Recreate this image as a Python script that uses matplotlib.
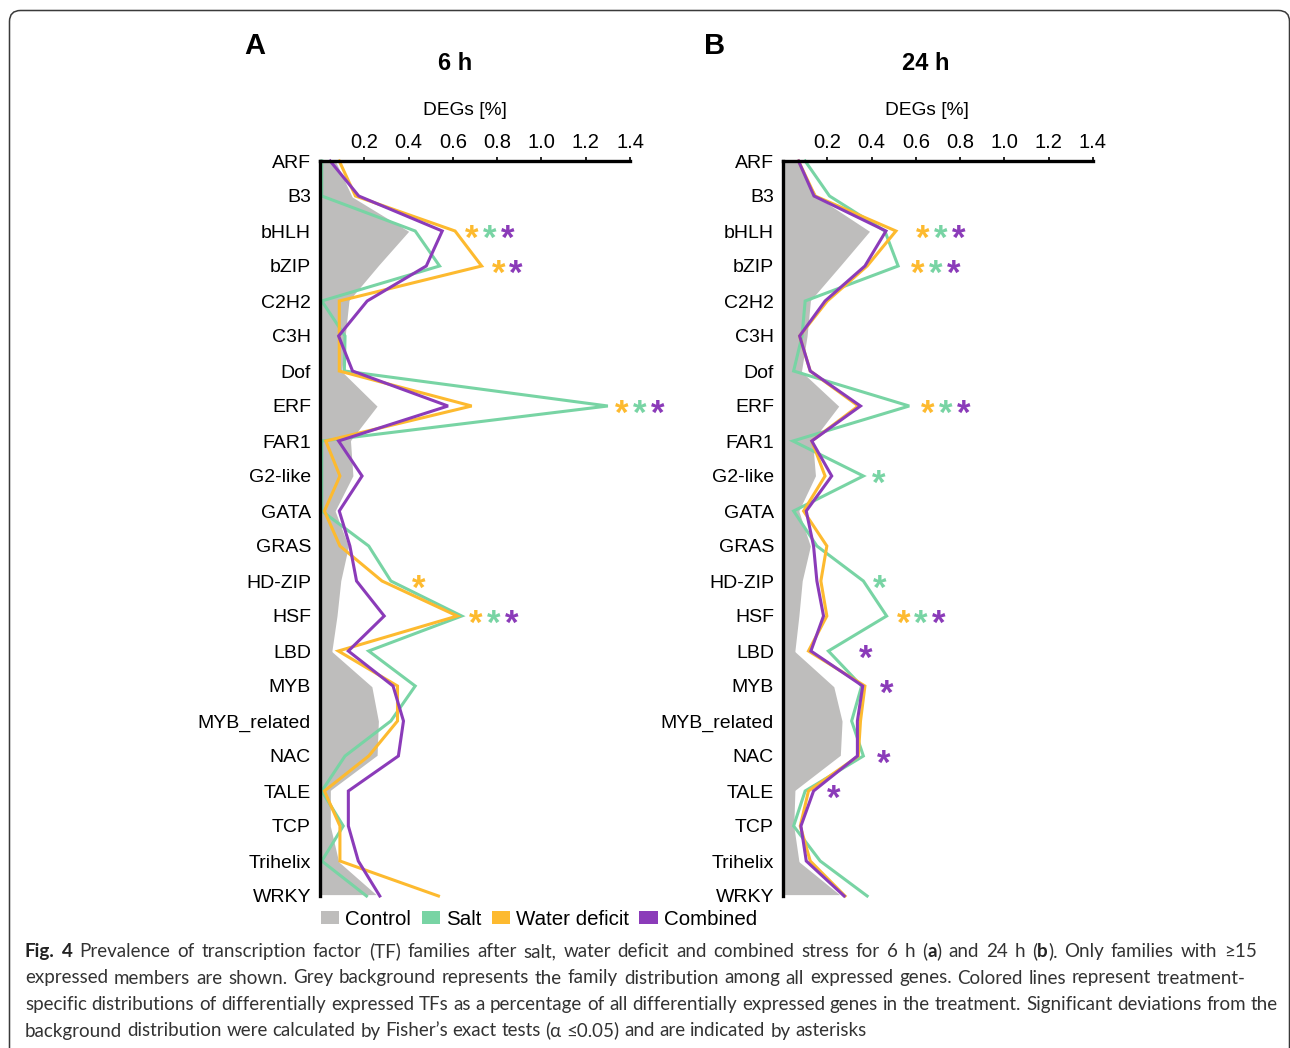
import matplotlib
matplotlib.use('Agg')
import matplotlib.pyplot as plt
from matplotlib.patches import Patch, FancyBboxPatch
from matplotlib.transforms import IdentityTransform
import numpy as np

plt.rcParams['font.family'] = ['Liberation Sans', 'DejaVu Sans']

# ---------------- data ----------------
families = ['ARF', 'B3', 'bHLH', 'bZIP', 'C2H2', 'C3H', 'Dof', 'ERF', 'FAR1',
            'G2-like', 'GATA', 'GRAS', 'HD-ZIP', 'HSF', 'LBD', 'MYB',
            'MYB_related', 'NAC', 'TALE', 'TCP', 'Trihelix', 'WRKY']
ticks = [0.2, 0.4, 0.6, 0.8, 1.0, 1.2, 1.4]
tick_labels = ['0.2', '0.4', '0.6', '0.8', '1.0', '1.2', '1.4']
series_names = ['Control', 'Salt', 'Water deficit', 'Combined']

# 6 h
control_6h = [0.076, 0.15, 0.41, 0.27, 0.137, 0.12, 0.105, 0.266, 0.144,
              0.155, 0.075, 0.135, 0.10, 0.083, 0.06, 0.24, 0.27, 0.264,
              0.053, 0.053, 0.09, 0.27]
salt_6h = [0.008, 0.008, 0.43, 0.54, 0.008, 0.113, 0.11, 1.30, 0.008,
           0.008, 0.008, 0.22, 0.32, 0.64, 0.22, 0.43, 0.32, 0.113,
           0.008, 0.105, 0.008, 0.21]
water_6h = [0.087, 0.16, 0.61, 0.73, 0.087, 0.087, 0.087, 0.685, 0.026,
            0.09, 0.02, 0.09, 0.28, 0.62, 0.083, 0.35, 0.35, 0.22,
            0.02, 0.09, 0.09, 0.535]
combined_6h = [0.046, 0.175, 0.552, 0.48, 0.213, 0.084, 0.147, 0.578, 0.084,
               0.19, 0.087, 0.135, 0.165, 0.29, 0.128, 0.33, 0.377, 0.354,
               0.128, 0.128, 0.173, 0.27]

# 24 h
control_24h = [0.07, 0.16, 0.40, 0.266, 0.13, 0.115, 0.09, 0.26, 0.14,
               0.153, 0.078, 0.13, 0.093, 0.078, 0.06, 0.235, 0.273, 0.265,
               0.06, 0.055, 0.078, 0.273]
salt_24h = [0.10, 0.21, 0.46, 0.52, 0.10, 0.086, 0.048, 0.57, 0.045,
            0.363, 0.048, 0.153, 0.363, 0.468, 0.205, 0.355, 0.31, 0.363,
            0.10, 0.048, 0.168, 0.38]
water_24h = [0.07, 0.145, 0.51, 0.38, 0.20, 0.075, 0.123, 0.34, 0.13,
             0.19, 0.093, 0.198, 0.171, 0.198, 0.115, 0.37, 0.35, 0.34,
             0.115, 0.078, 0.123, 0.28]
combined_24h = [0.07, 0.14, 0.465, 0.37, 0.19, 0.075, 0.123, 0.35, 0.13,
                0.22, 0.105, 0.138, 0.153, 0.183, 0.126, 0.36, 0.336, 0.336,
                0.138, 0.081, 0.105, 0.276]

# significance (Fisher's exact test) per family
sig_6h = {'bHLH': ['Water deficit', 'Salt', 'Combined'],
          'bZIP': ['Water deficit', 'Combined'],
          'ERF': ['Water deficit', 'Salt', 'Combined'],
          'HD-ZIP': ['Water deficit'],
          'HSF': ['Water deficit', 'Salt', 'Combined']}
sig_24h = {'bHLH': ['Water deficit', 'Salt', 'Combined'],
           'bZIP': ['Water deficit', 'Salt', 'Combined'],
           'ERF': ['Water deficit', 'Salt', 'Combined'],
           'G2-like': ['Salt'],
           'HD-ZIP': ['Salt'],
           'HSF': ['Water deficit', 'Salt', 'Combined'],
           'LBD': ['Combined'],
           'MYB': ['Combined'],
           'NAC': ['Combined'],
           'TALE': ['Combined']}

# ---------------- layout / style ----------------
star_start_6h = {'bHLH': 0.685, 'bZIP': 0.805, 'ERF': 1.363, 'HD-ZIP': 0.444, 'HSF': 0.703}
star_start_24h = {'bHLH': 0.63, 'bZIP': 0.61, 'ERF': 0.653, 'G2-like': 0.434,
                  'HD-ZIP': 0.438, 'HSF': 0.543, 'LBD': 0.374, 'MYB': 0.468,
                  'NAC': 0.453, 'TALE': 0.231}
star_step = 0.081
star_fs = 25

colors = {'Control': '#BEBDBC', 'Salt': '#78D4A4',
          'Water deficit': '#FDBA2F', 'Combined': '#8B3BB9'}

W, H = 1290, 1048
fig = plt.figure(figsize=(W / 100, H / 100), dpi=100)


def px_axes(left, right, top, bottom):
    return fig.add_axes([left / W, 1 - bottom / H, (right - left) / W, (bottom - top) / H])


def ftext(x, y, s, **kw):
    return fig.text(x / W, 1 - y / H, s, **kw)


def draw_panel(ax, control, salt, water, comb, sig, star_start):
    y = np.arange(len(families))
    ax.fill_betweenx(y, 0, control, facecolor=colors['Control'],
                     edgecolor='white', linewidth=2.0, zorder=1)
    for vals, name in [(salt, 'Salt'), (water, 'Water deficit'), (comb, 'Combined')]:
        ax.plot(vals, y, color=colors[name], lw=2.2, zorder=3, clip_on=False,
                solid_joinstyle='miter')
    ax.set_xlim(0, 1.4)
    ax.set_ylim(len(families) - 1, 0)
    ax.xaxis.tick_top()
    ax.set_xticks(ticks)
    ax.set_xticklabels(tick_labels)
    ax.tick_params(axis='x', direction='out', length=3, width=1.2, pad=3.5,
                   labelsize=14.5, color='black')
    ax.set_yticks(y)
    ax.set_yticklabels(families)
    ax.tick_params(axis='y', length=0, pad=6.5, labelsize=14)
    for s in ['right', 'bottom']:
        ax.spines[s].set_visible(False)
    for s in ['top', 'left']:
        ax.spines[s].set_linewidth(2.4)
        ax.spines[s].set_color('black')
        ax.spines[s].set_capstyle('projecting')
        ax.spines[s].set_zorder(5)
    for fam, lst in sig.items():
        yi = families.index(fam)
        for k, name in enumerate(lst):
            ax.annotate('*', xy=(star_start[fam] + k * star_step, yi),
                        xytext=(0, -0.575 * star_fs + 1.5), textcoords='offset points',
                        ha='center', va='baseline', fontsize=star_fs,
                        fontweight='bold', color=colors[name], annotation_clip=False)


axA = px_axes(320, 630, 161, 896)
axB = px_axes(783, 1093, 161, 896)
draw_panel(axA, control_6h, salt_6h, water_6h, combined_6h, sig_6h, star_start_6h)
draw_panel(axB, control_24h, salt_24h, water_24h, combined_24h, sig_24h, star_start_24h)

# titles
ftext(255, 54, 'A', ha='center', va='baseline', fontsize=21, fontweight='bold')
ftext(715, 54, 'B', ha='center', va='baseline', fontsize=21, fontweight='bold')
ftext(455, 70, '6 h', ha='center', va='baseline', fontsize=17, fontweight='bold')
ftext(926, 70, '24 h', ha='center', va='baseline', fontsize=17, fontweight='bold')
ftext(465, 115, 'DEGs [%]', ha='center', va='baseline', fontsize=13.8)
ftext(927, 115, 'DEGs [%]', ha='center', va='baseline', fontsize=13.8)

# legend
handles = [Patch(facecolor=colors[n], edgecolor='none') for n in series_names]
fig.legend(handles, series_names, ncol=4, frameon=False, fontsize=14.8,
           handlelength=0.89, handleheight=0.63, handletextpad=0.3,
           columnspacing=0.5, borderpad=0, borderaxespad=0,
           loc='center left', bbox_to_anchor=(321 / W, 1 - 919.5 / H))

# border
box = FancyBboxPatch((9.5, -40), 1289.5 - 9.5, (H - 10.5) + 40,
                     boxstyle='round,pad=0,rounding_size=11',
                     transform=IdentityTransform(), facecolor='none',
                     edgecolor='#3a3a3a', linewidth=1.1)
fig.add_artist(box)

# caption
cap_lines = [
    "**Fig. 4** Prevalence of transcription factor (TF) families after salt, water deficit and combined stress for 6 h (**a**) and 24 h (**b**). Only families with \u226515",
    "expressed members are shown. Grey background represents the family distribution among all expressed genes. Colored lines represent treatment-",
    "specific distributions of differentially expressed TFs as a percentage of all differentially expressed genes in the treatment. Significant deviations from the",
    "background distribution were calculated by Fisher\u2019s exact tests (\u03b1 \u22640.05) and are indicated by asterisks",
]
cap_right = [1257, 1246, 1278, None]   # right edge of each line (None = natural)
cap_family = ['Lato', 'DejaVu Sans']
cap_color = '#333333'
renderer = fig.canvas.get_renderer()


def parse_line(line, bold):
    words = []
    for wtok in line.split(' '):
        parts = wtok.split('**')
        runs = []
        for i, p in enumerate(parts):
            if i > 0:
                bold = not bold
            if p:
                runs.append((p, bold))
        words.append(runs)
    return words, bold


def run_w(s, bold, fs):
    t = fig.text(0, 0, s, fontsize=fs, fontweight='bold' if bold else 'normal',
                 family=cap_family)
    w = t.get_window_extent(renderer).width
    t.remove()
    return w


def line_width(words, fs):
    sp = run_w('a a', False, fs) - run_w('aa', False, fs)
    tot = sum(run_w(s, b, fs) for wd in words for s, b in wd)
    return tot + sp * (len(words) - 1)


parsed = []
bold = False
for ln in cap_lines:
    wds, bold = parse_line(ln, bold)
    parsed.append(wds)

fs0 = 12.0
cap_fs = fs0 * (1251 / line_width(parsed[2], fs0))
space_w = run_w('a a', False, cap_fs) - run_w('aa', False, cap_fs)
baselines = [957, 983.5, 1010, 1036.5]
for wds, yb, right in zip(parsed, baselines, cap_right):
    widths = [[run_w(s, b, cap_fs) for s, b in wd] for wd in wds]
    total = sum(sum(w) for w in widths)
    if right is None:
        gap = space_w
    else:
        gap = (right - 25.0 - total) / (len(wds) - 1)
    x = 25.0
    for wd, ws in zip(wds, widths):
        for (s, b), w in zip(wd, ws):
            ftext(x, yb, s, ha='left', va='baseline', fontsize=cap_fs,
                  fontweight='bold' if b else 'normal', family=cap_family,
                  color='#222222' if b else cap_color)
            x += w
        x += gap

fig.savefig('out.png', dpi=100)
